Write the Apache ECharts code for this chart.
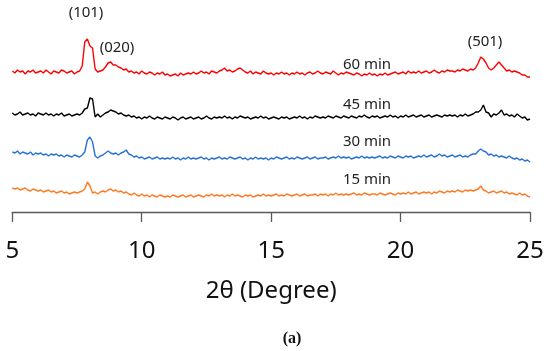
<!DOCTYPE html>
<html>
<head>
<meta charset="utf-8">
<script src="https://cdn.jsdelivr.net/npm/echarts@6/dist/echarts.min.js"></script>
<style>html,body{margin:0;padding:0;background:#fff;}#c{width:550px;height:351px;}</style>
</head>
<body>
<div id="c"></div>
<script>
// 2θ grid: 5.0 .. 25.0 in 0.1 steps (201 points per pattern)
const thetaStart = 5, thetaStep = 0.1;
const xTicks = [5, 10, 15, 20, 25];
const seriesNames = ['60 min', '45 min', '30 min', '15 min'];
const offsets = [140, 95, 55, 19];   // vertical stacking offsets of the patterns
const peakLabels = ['(101)', '(020)', '(501)'];

const red60 = [
 1,-1,2,0,1,-2,1,0,2,-1, 0,1,-1,2,0,-2,1,0,-1,2, 1,-1,0,1,-2,0,
 1,6,30,33,26,24,3,0,1,2,5,9,10,7,7,5,4,2,3,0,
 1,-1,0,-2,1,-1,-2,0,-1,-3,-1,-2,0,-3,
 -2,-4,-3,-2,-4,-1,-3,-2,-1,-2,
 0,-2,-1,1,-1,0,-2,1,0,-1,
 1,2,4,1,2,0,1,3,4,2,
 0,-1,1,-2,0,-1,-2,1,-1,-2,
 -1,-3,-1,-2,0,-2,-1,-3,-1,-2,
 0,-2,-1,-3,-1,0,-2,-1,1,-1,
 -2,0,-1,-2,1,-1,-3,-1,-2,0,
 -1,-2,-3,-1,-2,-4,-2,-3,-1,-3,
 -2,-4,-2,-3,-1,-3,-2,-1,0,-2,
 -1,0,-2,1,-1,0,-1,1,-1,0,
 1,-1,0,2,0,-1,1,0,2,1,
 1,0,2,1,3,2,1,3,2,
 4,9,15,13,9,4,2,4,7,10,7,4,1,2,0,1,0,-1,-3,-3,-5,-5
];
const black45 = [
 4,2,3,5,2,3,4,2,3,1, 4,3,2,4,2,3,1,3,2,4, 1,2,3,1,2,3,
 2,4,8,9,19,18,0,3,0,2,4,5,7,6,5,3,4,2,1,2,
 0,1,-1,0,-2,0,-1,1,-1,-2,0,-1,-2,0,
 -1,-2,0,-1,-3,-1,0,-2,-1,0,
 -2,-1,0,-2,-1,1,-1,-2,0,-1,
 0,-1,1,-1,0,-2,0,-1,1,0,
 -1,0,-2,-1,0,-1,1,-1,0,-2,
 -1,0,-1,-2,0,-1,0,-2,-1,0,
 -1,1,-1,0,-2,0,-1,1,0,-1,
 0,-1,1,0,-1,1,0,-1,1,0,
 -1,1,0,-1,1,0,2,0,-1,1,
 0,1,-1,0,1,0,2,0,1,-1,
 1,0,2,0,1,2,0,1,2,0,
 1,2,0,1,2,1,0,2,1,2,
 1,2,0,2,1,3,1,2,3,
 5,5,7,12,5,4,0,3,2,4,7,2,3,1,2,0,3,1,-1,0,-3,-2
];
const blue30 = [
 5,4,6,3,5,4,3,5,2,4, 3,4,2,3,1,3,2,3,1,2, 0,2,1,0,2,1,
 0,2,5,17,20,15,1,-1,1,2,4,6,4,3,4,2,4,5,7,3,
 2,0,1,-1,0,-2,-1,0,-2,-1,0,-2,-1,-2,
 -1,-2,0,-2,-1,-3,-1,-2,0,-2,
 -1,-2,-1,0,-2,-1,-3,-1,-2,-1,
 0,-2,-1,-2,0,-1,-2,-1,0,-2,
 -1,-3,-1,-2,0,-2,-1,-2,-1,-3,
 -1,-2,0,-1,-2,-1,0,-2,-1,-2,
 0,-1,-2,-1,0,-2,-1,0,-2,-1,
 -1,0,-2,-1,0,-1,1,-1,0,-1,
 0,-2,-1,0,-1,1,-1,0,-1,0,
 -1,0,1,-1,0,-1,1,0,-1,1,
 0,-1,1,0,1,-1,0,1,0,2,
 0,1,2,0,1,3,1,2,0,1,
 2,0,1,2,0,1,0,2,3,
 3,6,8,6,5,2,3,1,2,0,1,0,-1,1,-1,-2,-1,-3,-2,-4,-3,-5
];
const orange15 = [
 5,4,5,3,4,5,3,2,4,3, 2,3,1,2,3,1,2,0,1,2, 0,1,-1,0,1,0,
 1,2,4,11,7,0,1,-1,1,2,1,3,4,2,3,1,2,0,1,-1,
 -2,0,-2,-3,-1,-3,-2,-4,-2,-3,-4,-2,-3,-4,
 -3,-4,-2,-3,-4,-3,-2,-4,-3,-2,
 -4,-3,-2,-3,-4,-2,-3,-1,-3,-2,
 -3,-2,-4,-2,-3,-1,-3,-2,-3,-4,
 -2,-3,-2,-4,-3,-2,-3,-1,-3,-2,
 -3,-2,-1,-3,-2,-3,-1,-2,-3,-2,
 -1,-3,-2,-1,-3,-2,-2,-1,-3,-1,
 -2,-1,-3,-1,-2,0,-2,-1,-2,-1,
 -2,-1,0,-2,-1,-2,0,-1,-2,-1,
 -1,-2,0,-1,-2,-1,0,-1,-2,0,
 -1,0,-1,1,-1,0,1,-1,0,1,
 0,1,-1,1,0,2,1,0,2,1,
 2,1,3,2,1,3,2,3,2,
 3,4,7,3,2,0,1,2,0,1,2,0,1,-1,0,-1,-2,0,-2,-1,-3,-4
];

const patterns = [red60, black45, blue30, orange15];
const colors = ['#ff0000', '#000000', '#2672d6', '#ff7a22'];

function build(arr, off) {
  return arr.map((v, i) => [+(thetaStart + i * thetaStep).toFixed(2), v + off]);
}

const chart = echarts.init(document.getElementById('c'));
const textStyle = { fontFamily: 'Noto Sans', fontSize: 15, fill: '#222' };
function label(text, x, y, extra) {
  return { type: 'text', x: x, y: y,
    style: Object.assign({ text: text, textAlign: 'center', textVerticalAlign: 'middle' }, textStyle, extra || {}) };
}
chart.setOption({
  animation: false,
  backgroundColor: '#fff',
  grid: { left: 12.3, right: 20, top: 0, bottom: 139, containLabel: false },
  xAxis: {
    type: 'value', min: 5, max: 25, interval: 5,
    axisLine: { lineStyle: { color: '#595959', width: 1.3 } },
    axisTick: { length: 10, lineStyle: { color: '#595959', width: 1.3 } },
    splitLine: { show: false },
    axisLabel: { fontFamily: 'Noto Sans', fontSize: 24, color: '#111', margin: 27,
      customValues: xTicks, formatter: v => String(v) },
    name: '2θ (Degree)', nameLocation: 'middle', nameGap: 67,
    nameTextStyle: { fontFamily: 'Noto Sans', fontSize: 24, color: '#111' }
  },
  yAxis: { type: 'value', min: 0, max: 212, show: false },
  series: patterns.map((p, k) => ({
    name: seriesNames[k], type: 'line', data: build(p, offsets[k]),
    showSymbol: false, symbol: 'none',
    lineStyle: { color: colors[k], width: 1.4 }, z: 10 - k
  })),
  graphic: [
    label(peakLabels[0], 86, 13),
    label(peakLabels[1], 117, 48),
    label(peakLabels[2], 485, 42),
    label(seriesNames[0], 367, 65),
    label(seriesNames[1], 367, 105),
    label(seriesNames[2], 367, 142),
    label(seriesNames[3], 367, 180),
    label('(a)', 292, 339, { fontFamily: 'Liberation Serif', fontSize: 16, fontWeight: 'bold', fill: '#111' })
  ]
});
</script>
</body>
</html>
